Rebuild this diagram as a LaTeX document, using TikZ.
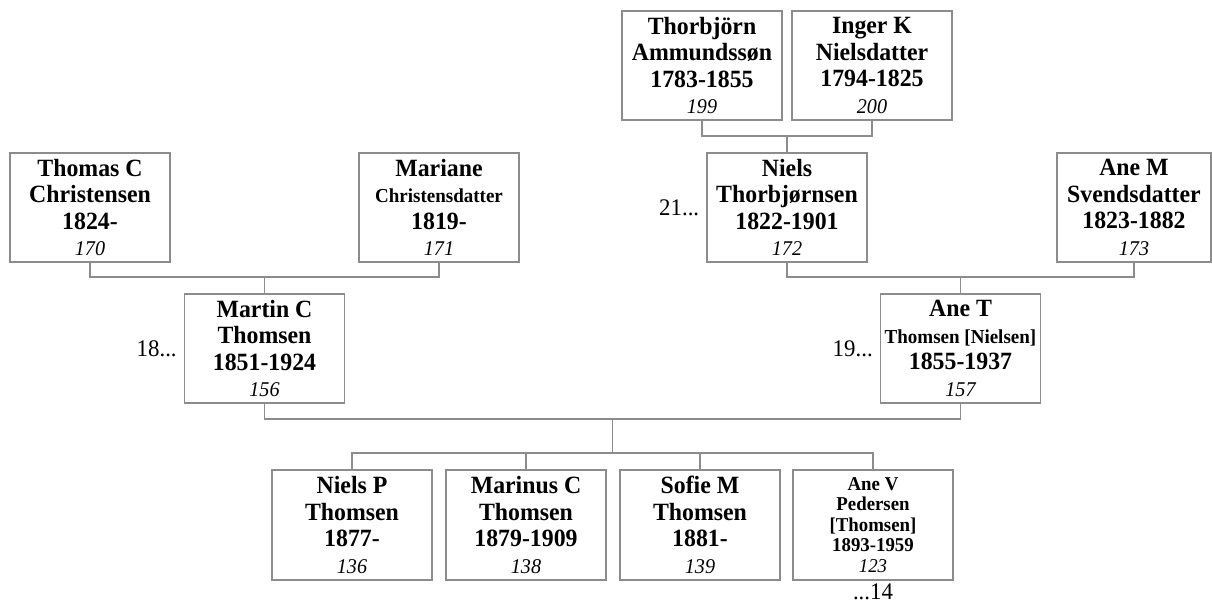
\documentclass[tikz,border=0pt]{standalone}
\usepackage{fontspec}
\setmainfont{Liberation Serif}[FakeStretch=0.96]
\usetikzlibrary{positioning}

\definecolor{linegray}{HTML}{8C8C8C}
\newcommand{\persno}[1]{{\mdseries\itshape\fontsize{21}{26.5}\selectfont #1}}
\newcommand{\smallname}[1]{{\fontsize{19.8}{26.5}\selectfont #1}}

\begin{document}
\begin{tikzpicture}[x=1pt, y=-1pt]

\tikzset{
  person/.style={rectangle, draw=linegray, line width=1.2pt, minimum width=160pt, minimum height=109pt, inner sep=0pt, align=center, font=\fontsize{24.8}{26.5}\selectfont\bfseries, execute at begin node={\rule{0pt}{21pt}}},
  kid/.style={person, minimum height=110pt},
  link/.style={draw=linegray, line width=1.2pt},
  more/.style={font=\fontsize{23.8}{27}\selectfont, inner sep=1pt}
}

\useasboundingbox (0,0) rectangle (1212,605);

% --- Urgroßeltern ---
\node[person] (thorbjorn) at (702,65.5) {Thorbjörn\\Ammundssøn\\1783-1855\\\persno{199}};
\node[person] (inger) at (872,65.5) {Inger K\\Nielsdatter\\1794-1825\\\persno{200}};

% --- Großeltern ---
\node[person] (thomas) at (90,207.5) {Thomas C\\Christensen\\1824-\\\persno{170}};
\node[person] (mariane) at (439,207.5) {Mariane\\\smallname{Christensdatter}\\1819-\\\persno{171}};
\node[person] (niels) at (787,207.5) {Niels\\Thorbjørnsen\\1822-1901\\\persno{172}};
\node[person, minimum width=154pt] (anem) at (1134,207.5) {Ane M\\Svendsdatter\\1823-1882\\\persno{173}};

% --- Eltern ---
\node[person] (martin) at (264.5,348.5) {Martin C\\Thomsen\\1851-1924\\\persno{156}};
\node[person] (anet) at (960.5,348.5) {Ane T\\\smallname{Thomsen [Nielsen]}\\1855-1937\\\persno{157}};

% --- Kinder ---
\node[kid] (nielsp) at (352,525) {Niels P\\Thomsen\\1877-\\\persno{136}};
\node[kid] (marinus) at (526,525) {Marinus C\\Thomsen\\1879-1909\\\persno{138}};
\node[kid] (sofie) at (700,525) {Sofie M\\Thomsen\\1881-\\\persno{139}};
\node[kid, font=\fontsize{19.6}{20.5}\selectfont\bfseries] (anev) at (873,525) {Ane V\\Pedersen\\{[Thomsen]}\\1893-1959\\{\mdseries\itshape 123}};

% --- Verweise ---
\node[more, left=6pt of niels] (refniels) {21...};
\node[more, left=6pt of martin] (refmartin) {18...};
\node[more, left=6pt of anet] (refanet) {19...};
\node[more, below=2pt of anev] (refanev) {...14};

% --- Verbindungen ---
\coordinate (j1) at (787,136);
\draw[link] (thorbjorn.south) |- (j1) -| (inger.south);
\draw[link] (j1) -- (niels.north);

\coordinate (j2) at (264.5,277);
\draw[link] (thomas.south) |- (j2) -| (mariane.south);
\draw[link] (j2) -- (martin.north);

\coordinate (j3) at (960.5,277);
\draw[link] (niels.south) |- (j3) -| (anem.south);
\draw[link] (j3) -- (anet.north);

\coordinate (j4) at (612.5,419);
\draw[link] (martin.south) |- (j4) -| (anet.south);
\coordinate (j5) at (612.5,453);
\draw[link] (j4) -- (j5);
\draw[link] (nielsp.north) |- (j5) -| (anev.north);
\draw[link] (marinus.north) -- (marinus.north |- j5);
\draw[link] (sofie.north) -- (sofie.north |- j5);

\end{tikzpicture}
\end{document}
